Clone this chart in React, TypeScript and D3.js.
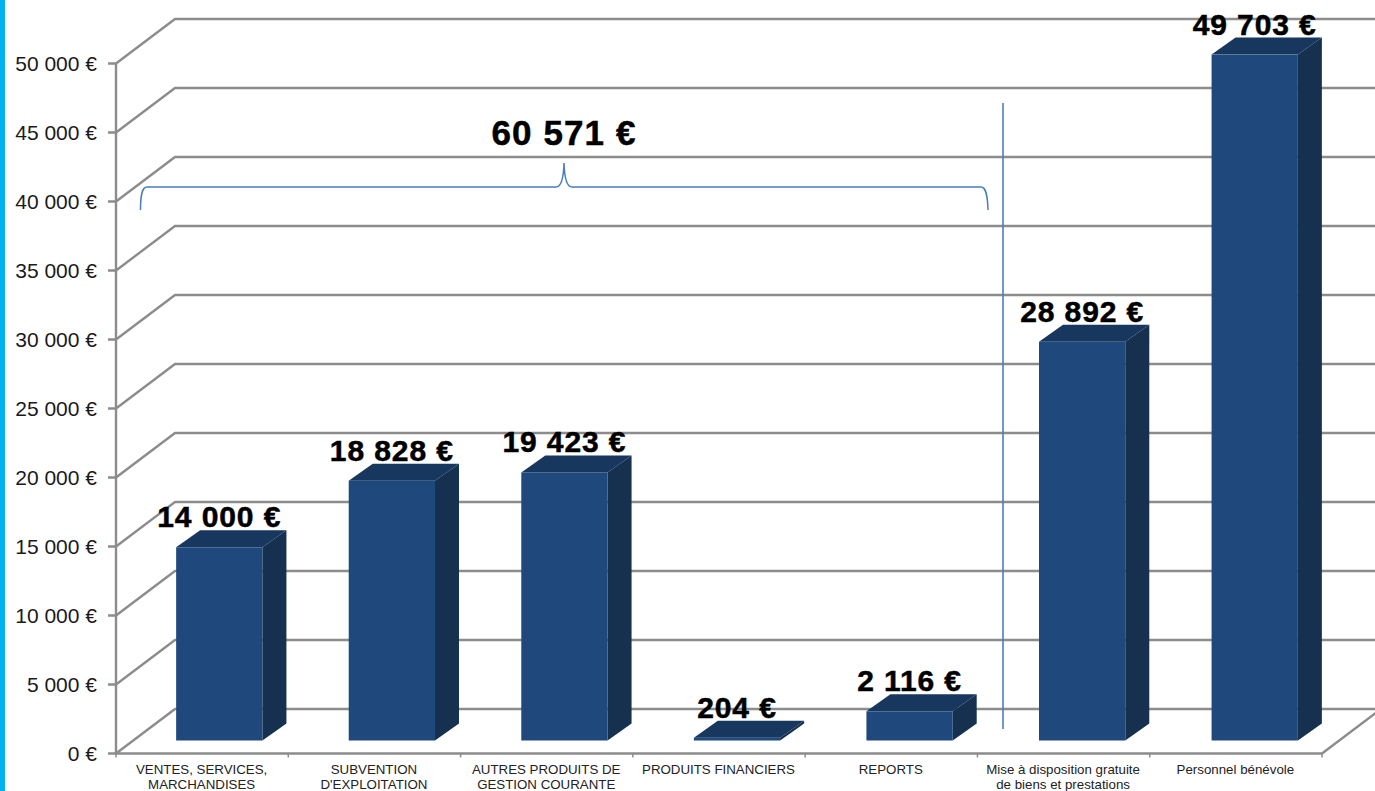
import React from "react";
import * as d3 from "d3";

const categories = [
  ["VENTES, SERVICES,", "MARCHANDISES"],
  ["SUBVENTION", "D'EXPLOITATION"],
  ["AUTRES PRODUITS DE", "GESTION COURANTE"],
  ["PRODUITS FINANCIERS"],
  ["REPORTS"],
  ["Mise à disposition gratuite", "de biens et prestations"],
  ["Personnel bénévole"],
];
const values = [14000, 18828, 19423, 204, 2116, 28892, 49703];
const valueLabels = ["14 000 €", "18 828 €", "19 423 €", "204 €", "2 116 €", "28 892 €", "49 703 €"];
const ticks = [0, 5000, 10000, 15000, 20000, 25000, 30000, 35000, 40000, 45000, 50000];
const totalLabel = "60 571 €";

const W = 1375, H = 791;
const font = "'Liberation Sans', Arial, sans-serif";
const GRID = "#8c8c8c";
const FRONT = "#1f497d", SIDE = "#16304f", TOP = "#17375e", BLUE = "#4a7ebb";
const DEPTH_X = 59, DEPTH_Y = 44.5;
const BAR_DX = 24, BAR_DY = 17;

const y = d3.scaleLinear().domain([0, 50000]).range([753.5, 63.5]);
const x = d3.scaleBand<number>().domain(d3.range(values.length)).range([116, 1322]);
// bars stand on the floor, slightly behind the front axis
const xBar = d3.scaleBand<number>().domain(d3.range(values.length)).range([133, 1341]).paddingInner(0.5).paddingOuter(0.25);
const line = d3.line();
const fmtTick = (v: number) => d3.format(",")(v).replace(",", " ") + " €";

export default function App() {
  const bw = x.bandwidth();
  const barW = xBar.bandwidth();
  return (
    <svg width={W} height={H} viewBox={`0 0 ${W} ${H}`}
      style={{ position: "absolute", left: 0, top: 0, background: "#fff", display: "block" }}>
      <rect x={0} y={0} width={5} height={H} fill="#00b0f0" />
      {/* walls */}
      {ticks.map((t) => (
        <path key={t} fill="none" stroke={GRID} strokeWidth={2.4}
          d={line([[108, y(t)], [116, y(t)], [116 + DEPTH_X, y(t) - DEPTH_Y], [W + 5, y(t) - DEPTH_Y]]) || ""} />
      ))}
      <path fill="none" stroke={GRID} strokeWidth={2.4}
        d={line([[116, y(50000)], [116, y(0)], [1322, y(0)], [1322 + DEPTH_X, y(0) - DEPTH_Y]]) || ""} />
      {d3.range(values.length + 1).map((i) => {
        const px = 116 + i * bw;
        return <line key={i} x1={px} x2={px} y1={y(0)} y2={y(0) + 4} stroke={GRID} strokeWidth={1.5} />;
      })}
      {ticks.map((t) => (
        <text key={t} x={97} y={y(t) + 7.5} textAnchor="end" fontFamily={font} fontSize={21} fill="#1a1a1a">{fmtTick(t)}</text>
      ))}
      {/* bars */}
      {values.map((v, i) => {
        const left = xBar(i) as number;
        const right = left + barW;
        const base = y(0) - 13;
        const top = y(v) - 13;
        return (
          <g key={i}>
            <polygon fill={SIDE} points={`${right},${base} ${right + BAR_DX},${base - BAR_DY} ${right + BAR_DX},${top - BAR_DY} ${right},${top}`} />
            <polygon fill={TOP} points={`${left},${top} ${left + BAR_DX},${top - BAR_DY} ${right + BAR_DX},${top - BAR_DY} ${right},${top}`} />
            <rect x={left} y={top} width={barW} height={base - top} fill={FRONT} />
          </g>
        );
      })}
      {/* annotations */}
      <path fill="none" stroke={BLUE} strokeWidth={1.5}
        d="M140.5,210 C140.5,195 142,187 147,187 L556,187 C561,187 563.5,180 564,163 C564.5,180 567,187 572,187 L981,187 C986,187 987.5,195 988,210" />
      <line x1={1003} x2={1003} y1={103} y2={729} stroke={BLUE} strokeWidth={1.6} />
      <text x={564} y={145} textAnchor="middle" fontFamily={font} fontSize={35} fontWeight="bold" fill="#000" stroke="#000" strokeWidth={0.5} letterSpacing={1.1}>{totalLabel}</text>
      {/* value labels */}
      {values.map((v, i) => (
        <text key={i} x={(xBar(i) as number) + barW / 2} y={y(v) - 13 - 20} textAnchor="middle" fontFamily={font} fontSize={30} fontWeight="bold"
          fill="#000" stroke="#000" strokeWidth={0.5} letterSpacing={0.9}>{valueLabels[i]}</text>
      ))}
      {/* categories */}
      {categories.map((lines, i) => (
        <text key={i} textAnchor="middle" fontFamily={font} fontSize={13.3} fill="#222">
          {lines.map((l, j) => (
            <tspan key={j} x={(x(i) as number) + bw / 2 - 0.5} y={773.5 + j * 15.5}>{l}</tspan>
          ))}
        </text>
      ))}
    </svg>
  );
}
